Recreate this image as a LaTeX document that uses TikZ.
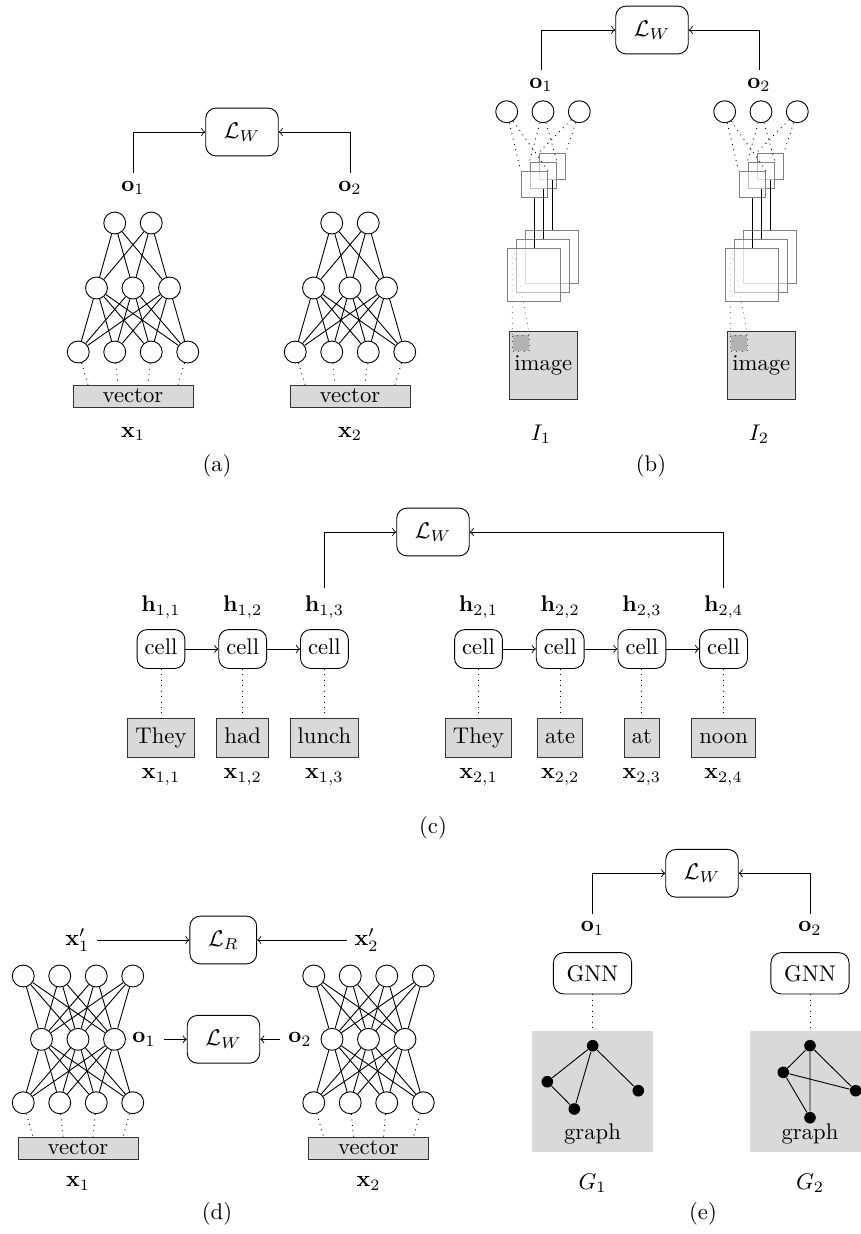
\documentclass[tikz,border=0pt]{standalone}
\usetikzlibrary{calc}
\begin{document}
\begin{tikzpicture}[x=0.0155cm,y=-0.0155cm,
    neuron/.style={draw,circle,minimum size=0.34cm,inner sep=0pt},
    lossbox/.style={draw,rounded corners=4.5pt,minimum height=0.74cm,inner xsep=8pt},
    cellbox/.style={draw,rounded corners=4.5pt,text height=7.5pt,text depth=3pt},
    gnnbox/.style={draw,rounded corners=4.5pt,minimum height=0.64cm,inner xsep=5.8pt},
    inbox/.style={draw=black!80,fill=gray!30,text height=7.5pt,text depth=3pt},
    vecbox/.style={draw=black!80,fill=gray!30,minimum width=1.86cm,minimum height=0.34cm,inner sep=0pt},
    fmap/.style={draw=black!50,fill=white,fill opacity=0.5,inner sep=0pt},
    gnode/.style={circle,fill=black,minimum size=0.18cm,inner sep=0pt},
    link/.style={dotted}]
    \useasboundingbox (0,0) rectangle (861,1234);

    % (a) feed-forward
    \node[lossbox] (aloss) at (242,132) {$\mathcal{L}_W$};
    \foreach \s/\ox in {1/133,2/350} {
        \node (ao\s) at (\ox,188) {$\mathbf{o}_\s$};
        \node[vecbox] (av\s) at (\ox,396) {vector};
        \node (ax\s) at (\ox,434) {$\mathbf{x}_\s$};
        \foreach \i/\dx in {1/-18.25,2/18.25}
            \node[neuron] (a\s-t\i) at (\ox+\dx,223) {};
        \foreach \i/\dx in {1/-36.5,2/0,3/36.5}
            \node[neuron] (a\s-m\i) at (\ox+\dx,288) {};
        \foreach \i/\dx in {1/-54.75,2/-18.25,3/18.25,4/54.75}
            \node[neuron] (a\s-b\i) at (\ox+\dx,352) {};
        \foreach \i in {1,2} \foreach \j in {1,2,3}
            \draw (a\s-t\i) -- (a\s-m\j);
        \foreach \j in {1,2,3} \foreach \k in {1,...,4}
            \draw (a\s-m\j) -- (a\s-b\k);
        \foreach \k/\dx in {1/-45,2/-15,3/15,4/45}
            \draw[link] (a\s-b\k) -- ($(av\s.north)+(\dx,0)$);
    }
    \draw[->] (ao1) |- (aloss);
    \draw[->] (ao2) |- (aloss);
    \node (acap) at (217,466) {(a)};

    % (b) convolutional
    \node[lossbox] (bloss) at (652,30) {$\mathcal{L}_W$};
    \foreach \s/\ox in {1/0,2/218} {
        \node (bo\s) at (541+\ox,85) {$\mathbf{o}_\s$};
        \node[draw=black!80,fill=gray!30,minimum size=1.05cm,inner sep=0pt] (bi\s) at (543.3+\ox,365.8) {image};
        \node[draw=black!70,dotted,fill=gray!60,minimum size=0.25cm,inner sep=0pt,anchor=north west]
            (bp\s) at ($(bi\s.north west)+(3.4,3.3)$) {};
        \coordinate (bra\s) at (512.3+\ox,253);
        \coordinate (brb\s) at (514.3+\ox,253);
        \draw[link,gray] (bp\s.north west) -- (bra\s);
        \draw[link,gray] (bp\s.north east) -- (brb\s);
        \foreach \k/\d in {3/18,2/9,1/0}
            \node[fmap,minimum size=0.82cm] (bf\s-\k) at (534.2+\ox+\d,275.3-\d) {};
        \foreach \k/\d in {3/18,2/9,1/0}
            \node[fmap,minimum size=0.41cm] (bs\s-\k) at (534.2+\ox+\d,184.3-\d) {};
        \foreach \k/\d in {1/-36.3,2/0,3/36.3}
            \node[neuron] (bc\s-\k) at (543+\ox+\d,111.7) {};
        \foreach \k in {1,2,3} {
            \draw[link] (bc\s-\k) -- (bs\s-\k.north west);
            \draw[link] (bc\s-\k) -- (bs\s-\k.north east);
            \draw (bs\s-\k) -- (bf\s-\k);
        }
    }
    \draw[->] (bo1) |- (bloss);
    \draw[->] (bo2) |- (bloss);
    \node (bI1) at (541,434) {$I_1$};
    \node (bI2) at (759,434) {$I_2$};
    \node (bcap) at (651,466) {(b)};

    % (c) recurrent
    \node[lossbox] (closs) at (433,532) {$\mathcal{L}_W$};
    \foreach \i/\x/\w in {1/161/They,2/242.7/had,3/324.4/lunch} {
        \node (ch1\i) at (\x,607) {$\mathbf{h}_{1,\i}$};
        \node[cellbox] (cc1\i) at (\x,649) {cell};
        \node[inbox] (cw1\i) at (\x,738) {\w};
        \node (cx1\i) at (\x,777) {$\mathbf{x}_{1,\i}$};
        \draw[link] (cc1\i) -- (cw1\i);
    }
    \foreach \i/\x/\w in {1/478.5/They,2/560.2/ate,3/641.9/at,4/723.6/noon} {
        \node (ch2\i) at (\x,607) {$\mathbf{h}_{2,\i}$};
        \node[cellbox] (cc2\i) at (\x,649) {cell};
        \node[inbox] (cw2\i) at (\x,738) {\w};
        \node (cx2\i) at (\x,777) {$\mathbf{x}_{2,\i}$};
        \draw[link] (cc2\i) -- (cw2\i);
    }
    \draw[->] (cc11) -- (cc12);
    \draw[->] (cc12) -- (cc13);
    \draw[->] (cc21) -- (cc22);
    \draw[->] (cc22) -- (cc23);
    \draw[->] (cc23) -- (cc24);
    \draw[->] (ch13) |- (closs);
    \draw[->] (ch24) |- (closs);
    \node (ccap) at (433,828) {(c)};

    % (d) autoencoder
    \node[lossbox] (dlr) at (223.3,940) {$\mathcal{L}_R$};
    \node[lossbox] (dlw) at (223.5,1039.3) {$\mathcal{L}_W$};
    \foreach \s/\ox in {1/78,2/368.5} {
        \foreach \i/\dx in {1/-54.75,2/-18.25,3/18.25,4/54.75} {
            \node[neuron] (d\s-t\i) at (\ox+\dx,976) {};
            \node[neuron] (d\s-b\i) at (\ox+\dx,1102.7) {};
        }
        \foreach \i/\dx in {1/-36.5,2/0,3/36.5}
            \node[neuron] (d\s-m\i) at (\ox+\dx,1039.3) {};
        \node[vecbox] (dv\s) at (\ox,1148) {vector};
        \node (dx\s) at (\ox,1183.3) {$\mathbf{x}_\s$};
        \foreach \i in {1,...,4} \foreach \j in {1,2,3} {
            \draw (d\s-t\i) -- (d\s-m\j);
            \draw (d\s-m\j) -- (d\s-b\i);
        }
        \foreach \k/\dx in {1/-45,2/-15,3/15,4/45}
            \draw[link] (d\s-b\k) -- ($(dv\s.north)+(\dx,0)$);
    }
    \node (dxp1) at (77.3,940) {$\mathbf{x}'_1$};
    \node (dxp2) at (366.7,940) {$\mathbf{x}'_2$};
    \node (do1) at (144,1039.3) {$\mathbf{o}_1$};
    \node (do2) at (300,1039.3) {$\mathbf{o}_2$};
    \draw[->] (dxp1) -- (dlr);
    \draw[->] (dxp2) -- (dlr);
    \draw[->] (do1) -- (dlw);
    \draw[->] (do2) -- (dlw);
    \node (dcap) at (217,1214) {(d)};

    % (e) graph
    \node[lossbox] (eloss) at (702,873.3) {$\mathcal{L}_W$};
    \foreach \s/\ox in {1/592.5,2/810} {
        \node (eo\s) at (\ox,928.3) {$\mathbf{o}_\s$};
        \node[gnnbox] (eg\s) at (\ox,973.3) {GNN};
        \node[fill=gray!30,minimum size=1.87cm,inner sep=0pt] (eb\s) at (\ox,1091.3) {};
        \node (et\s) at (\ox,1134) {graph};
        \node (eG\s) at (\ox,1183.3) {$G_\s$};
        \draw[link] (eg\s) -- (eb\s);
    }
    \node[gnode] (g1a) at (592.7,1045.7) {};
    \node[gnode] (g1b) at (547.3,1081.7) {};
    \node[gnode] (g1c) at (574.3,1109) {};
    \node[gnode] (g1d) at (638.3,1090.7) {};
    \draw (g1a) -- (g1b) -- (g1c) -- (g1a) -- (g1d);
    \node[gnode] (g2a) at (810,1045.7) {};
    \node[gnode] (g2b) at (783.3,1072.3) {};
    \node[gnode] (g2c) at (855.7,1090.7) {};
    \node[gnode] (g2d) at (810,1117.7) {};
    \draw (g2a) -- (g2b) -- (g2c) -- (g2a) -- (g2d) -- (g2b);
    \draw[->] (eo1) |- (eloss);
    \draw[->] (eo2) |- (eloss);
    \node (ecap) at (703,1214) {(e)};
\end{tikzpicture}
\end{document}
